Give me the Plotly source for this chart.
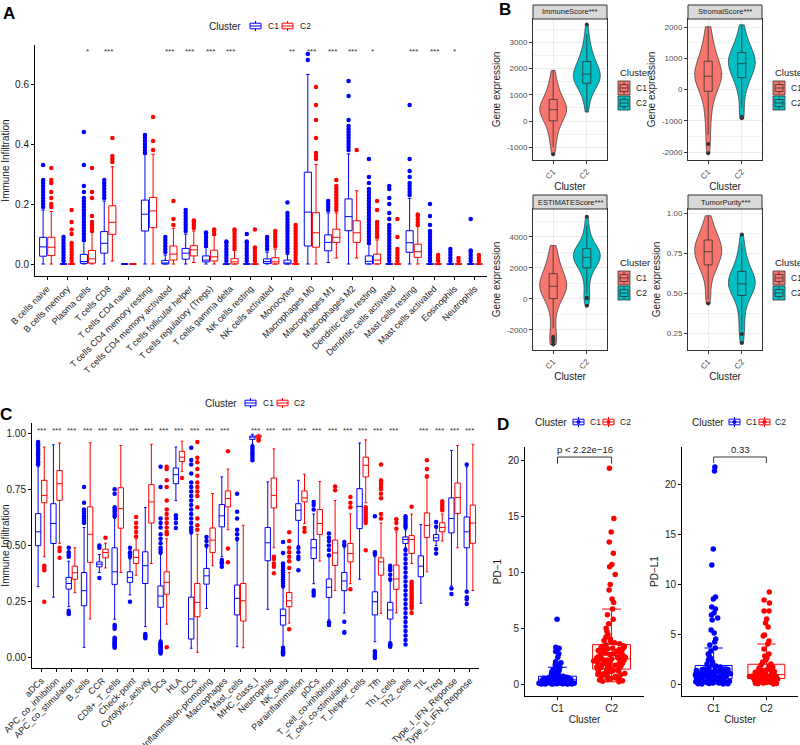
import plotly.graph_objects as go

FONT = "Liberation Sans, Arial, sans-serif"
BLUE = "#0000FF"
RED = "#FF0000"
SALMON = "#F8766D"
TEAL = "#00BFC4"

# ---------------- Panel A: CIBERSORT immune cells ----------------
cats_a = ["B cells naive", "B cells memory", "Plasma cells", "T cells CD8", "T cells CD4 naive",
          "T cells CD4 memory resting", "T cells CD4 memory activated", "T cells follicular helper",
          "T cells regulatory (Tregs)", "T cells gamma delta", "NK cells resting", "NK cells activated",
          "Monocytes", "Macrophages M0", "Macrophages M1", "Macrophages M2", "Dendritic cells resting",
          "Dendritic cells activated", "Mast cells resting", "Mast cells activated", "Eosinophils",
          "Neutrophils"]
sig_a = ["", "", "*", "***", "", "", "***", "***", "***", "***", "", "", "**", "***", "***", "***",
         "*", "", "***", "***", "*", ""]

a_c1_lo = [0, 0, 0, 0, 0, 0, 0, 0, 0, 0, 0, 0, 0, 0, 0.005, 0, 0, 0, 0, 0, 0, 0]
a_c1_q1 = [0.026, 0, 0.002, 0.036, 0, 0.11, 0, 0.016, 0.007, 0, 0, 0.002, 0, 0.06, 0.044, 0.111, 0, 0, 0.039, 0, 0, 0]
a_c1_med = [0.057, 0, 0.008, 0.069, 0, 0.166, 0.003, 0.036, 0.013, 0, 0, 0.008, 0.002, 0.173, 0.072, 0.158, 0.009, 0, 0.071, 0, 0, 0]
a_c1_q3 = [0.089, 0, 0.032, 0.108, 0, 0.213, 0.012, 0.052, 0.027, 0, 0, 0.017, 0.013, 0.306, 0.097, 0.217, 0.027, 0, 0.111, 0, 0, 0]
a_c1_hi = [0.18, 0, 0.075, 0.21, 0, 0.366, 0.03, 0.1, 0.055, 0, 0, 0.04, 0.032, 0.632, 0.17, 0.367, 0.065, 0, 0.219, 0, 0, 0]
a_c1_out = [
    [0.19, 0.2, 0.21, 0.22, 0.23, 0.24, 0.25, 0.26, 0.27, 0.28, 0.33],
    [0.01, 0.02, 0.03, 0.04, 0.05, 0.06, 0.07, 0.08, 0.09],
    [0.08, 0.09, 0.1, 0.11, 0.12, 0.13, 0.14, 0.15, 0.16, 0.17, 0.18, 0.19, 0.2, 0.21, 0.22, 0.24, 0.26, 0.33, 0.44],
    [0.22, 0.23, 0.24, 0.25, 0.26, 0.27, 0.28],
    [],
    [0.37, 0.38, 0.39, 0.4, 0.41, 0.42, 0.43],
    [0.04, 0.05, 0.06, 0.07, 0.08, 0.09],
    [0.11, 0.12, 0.13, 0.14, 0.15, 0.16, 0.17, 0.18],
    [0.06, 0.07, 0.08, 0.09, 0.1, 0.105],
    [0.01, 0.02, 0.03, 0.04, 0.05, 0.06, 0.07, 0.075],
    [0.01, 0.02, 0.03, 0.04, 0.05, 0.06, 0.07, 0.075, 0.1],
    [0.05, 0.06, 0.07, 0.08, 0.09],
    [0.04, 0.05, 0.06, 0.07, 0.08, 0.09, 0.1, 0.11, 0.12, 0.13, 0.14, 0.15, 0.16, 0.17, 0.205],
    [0.68, 0.7],
    [0.18, 0.19, 0.2, 0.21],
    [0.38, 0.39, 0.4, 0.41, 0.42, 0.43, 0.44, 0.45, 0.46, 0.48, 0.56, 0.61],
    [0.07, 0.08, 0.09, 0.1, 0.11, 0.12, 0.13, 0.14, 0.15, 0.16, 0.17, 0.18, 0.19, 0.2, 0.21, 0.22, 0.23, 0.24, 0.25, 0.27, 0.29, 0.35],
    [0.01, 0.02, 0.03, 0.04, 0.05, 0.06, 0.07, 0.08, 0.09, 0.1, 0.11, 0.12, 0.13, 0.15, 0.17, 0.2, 0.22, 0.25, 0.26],
    [0.23, 0.24, 0.25, 0.26, 0.27, 0.29, 0.31, 0.35, 0.53],
    [0.01, 0.02, 0.03, 0.04, 0.05, 0.06, 0.07, 0.08, 0.09, 0.1, 0.11, 0.13, 0.16, 0.2],
    [0.01, 0.02, 0.03, 0.04, 0.05],
    [0.01, 0.02, 0.03, 0.04, 0.045, 0.15],
]

a_c2_lo = [0, 0, 0, 0.01, 0, 0, 0, 0.005, 0, 0, 0, 0, 0, 0, 0.02, 0.02, 0, 0, 0, 0, 0, 0]
a_c2_q1 = [0.028, 0, 0.003, 0.099, 0, 0.121, 0.013, 0.027, 0.01, 0, 0, 0, 0, 0.056, 0.072, 0.072, 0, 0, 0.022, 0, 0, 0]
a_c2_med = [0.056, 0, 0.017, 0.139, 0, 0.177, 0.033, 0.047, 0.024, 0.007, 0, 0.007, 0, 0.104, 0.089, 0.104, 0.013, 0, 0.041, 0, 0, 0]
a_c2_q3 = [0.089, 0, 0.045, 0.194, 0, 0.222, 0.06, 0.061, 0.046, 0.018, 0, 0.021, 0, 0.171, 0.116, 0.144, 0.033, 0, 0.066, 0, 0, 0]
a_c2_hi = [0.175, 0, 0.108, 0.324, 0, 0.366, 0.119, 0.11, 0.095, 0.045, 0, 0.05, 0, 0.332, 0.17, 0.244, 0.08, 0, 0.125, 0, 0, 0]
a_c2_out = [
    [0.19, 0.2, 0.22, 0.24, 0.27, 0.28, 0.32],
    [0.01, 0.02, 0.03, 0.04, 0.05, 0.06, 0.07, 0.1, 0.115, 0.14, 0.18],
    [0.11, 0.12, 0.13, 0.14, 0.16, 0.22, 0.24, 0.32],
    [0.34, 0.35, 0.36, 0.42],
    [],
    [0.38, 0.41, 0.49],
    [0.13, 0.15, 0.21],
    [0.12, 0.13, 0.14, 0.145],
    [0.1, 0.11, 0.115],
    [0.05, 0.06, 0.07, 0.08, 0.09, 0.1, 0.11, 0.115],
    [0.01, 0.02, 0.03, 0.04, 0.05, 0.055, 0.115],
    [0.06, 0.07, 0.08, 0.09, 0.1, 0.11],
    [0.01, 0.02, 0.03, 0.04, 0.05, 0.06, 0.07, 0.08, 0.09, 0.1, 0.11, 0.12, 0.13],
    [0.35, 0.36, 0.37, 0.42, 0.48, 0.53, 0.59],
    [0.18, 0.19, 0.2, 0.21, 0.22, 0.23, 0.24, 0.25, 0.26, 0.28],
    [0.38],
    [0.09, 0.1, 0.11, 0.12, 0.13, 0.14, 0.18, 0.21],
    [0.01, 0.02, 0.03, 0.04, 0.05, 0.09, 0.15],
    [0.13, 0.14, 0.15, 0.16, 0.165],
    [0.01, 0.02, 0.03],
    [0.01, 0.02],
    [0.01, 0.02, 0.03],
]

# ---------------- Panel B: ESTIMATE scores (violins) ----------------
immune_c1 = [-1270, -1000, -820, -650, -500, -380, -260, -160, -80, -10,
             20, 90, 150, 210, 260, 300, 340, 370, 400, 420,
             440, 470, 500, 530, 570, 610, 650, 700, 740, 790,
             850, 920, 1000, 1080, 1170, 1270, 1380, 1500, 1680, 1930]
immune_c2 = [340, 600, 820, 980, 1100, 1200, 1270, 1330, 1380, 1420,
             1460, 1500, 1540, 1580, 1620, 1660, 1690, 1720, 1750, 1770,
             1800, 1840, 1880, 1930, 1980, 2030, 2080, 2130, 2180, 2230,
             2300, 2380, 2460, 2550, 2650, 2760, 2900, 3080, 3300, 3680]
stromal_c1 = [-2040, -1740, -1450, -1150, -900, -700, -520, -360, -220, -90,
              -20, 50, 120, 180, 240, 290, 330, 360, 390, 410,
              440, 480, 520, 570, 620, 670, 720, 770, 820, 870,
              940, 1010, 1090, 1180, 1280, 1390, 1520, 1680, 1850, 2010]
stromal_c2 = [-920, -870, -600, -330, -120, 40, 150, 230, 300, 350,
              410, 470, 530, 580, 630, 680, 720, 760, 790, 810,
              840, 870, 900, 930, 960, 1000, 1040, 1080, 1120, 1160,
              1210, 1260, 1320, 1380, 1450, 1530, 1620, 1730, 1880, 2070]
estimate_c1 = [-2950, -2750, -2600, -2450, -1900, -1300, -850, -500, -250, -30,
               60, 160, 260, 360, 450, 540, 620, 690, 740, 790,
               840, 900, 970, 1050, 1140, 1230, 1320, 1410, 1500, 1580,
               1680, 1800, 1940, 2100, 2280, 2480, 2700, 2940, 3180, 3450]
estimate_c2 = [-450, 40, 80, 350, 800, 1150, 1450, 1650, 1820, 1960,
               2050, 2140, 2230, 2310, 2390, 2460, 2520, 2570, 2610, 2650,
               2700, 2760, 2820, 2880, 2940, 3000, 3060, 3110, 3160, 3210,
               3280, 3360, 3450, 3560, 3700, 3880, 4100, 4400, 4750, 5300]
purity_c1 = [0.435, 0.46, 0.5, 0.55, 0.59, 0.62, 0.64, 0.65, 0.66, 0.672,
             0.68, 0.69, 0.70, 0.71, 0.72, 0.73, 0.735, 0.74, 0.75, 0.756,
             0.76, 0.77, 0.775, 0.78, 0.79, 0.795, 0.80, 0.81, 0.82, 0.827,
             0.835, 0.845, 0.855, 0.865, 0.88, 0.895, 0.91, 0.93, 0.955, 0.983]
purity_c2 = [0.187, 0.244, 0.27, 0.31, 0.35, 0.39, 0.42, 0.44, 0.46, 0.479,
             0.49, 0.50, 0.51, 0.52, 0.525, 0.53, 0.54, 0.545, 0.55, 0.556,
             0.56, 0.57, 0.575, 0.58, 0.59, 0.60, 0.605, 0.615, 0.62, 0.631,
             0.64, 0.65, 0.665, 0.68, 0.70, 0.72, 0.745, 0.775, 0.81, 0.865]
b_titles = ["ImmuneScore***", "StromalScore***", "ESTIMATEScore***", "TumorPurity***"]

# ---------------- Panel C: ssGSEA immune functions ----------------
cats_c = ["aDCs", "APC_co_inhibition", "APC_co_stimulation", "B_cells", "CCR", "CD8+_T_cells",
          "Check-point", "Cytolytic_activity", "DCs", "HLA", "iDCs", "Inflammation-promoting",
          "Macrophages", "Mast_cells", "MHC_class_I", "Neutrophils", "NK_cells", "Parainflammation",
          "pDCs", "T_cell_co-inhibition", "T_cell_co-stimulation", "T_helper_cells", "Tfh",
          "Th1_cells", "Th2_cells", "TIL", "Treg", "Type_I_IFN_Reponse", "Type_II_IFN_Reponse"]
sig_c = ["***"] * 13 + [""] + ["***"] * 10 + [""] + ["***"] * 4

c_c1_lo = [0.317, 0.27, 0.228, 0.047, 0.38, 0.172, 0.28, 0.139, 0.08, 0.7, 0.043, 0.22, 0.45, 0.05, 0.95,
           0.216, 0.05, 0.5, 0.33, 0.17, 0.2, 0.35, 0.072, 0.07, 0.49, 0.243, 0.5, 0.32, 0.3]
c_c1_q1 = [0.499, 0.509, 0.306, 0.232, 0.405, 0.327, 0.336, 0.331, 0.225, 0.775, 0.084, 0.328, 0.583, 0.191, 0.972,
           0.432, 0.146, 0.612, 0.442, 0.269, 0.299, 0.575, 0.191, 0.173, 0.509, 0.361, 0.521, 0.556, 0.49]
c_c1_med = [0.561, 0.598, 0.331, 0.299, 0.417, 0.383, 0.358, 0.41, 0.275, 0.815, 0.173, 0.365, 0.632, 0.265, 0.982,
            0.512, 0.188, 0.657, 0.49, 0.314, 0.342, 0.674, 0.25, 0.213, 0.527, 0.408, 0.534, 0.62, 0.561]
c_c1_q3 = [0.642, 0.686, 0.358, 0.38, 0.427, 0.49, 0.383, 0.472, 0.32, 0.845, 0.27, 0.398, 0.682, 0.324, 0.987,
           0.58, 0.217, 0.686, 0.527, 0.351, 0.38, 0.753, 0.294, 0.247, 0.538, 0.454, 0.549, 0.712, 0.627]
c_c1_hi = [0.85, 0.948, 0.43, 0.58, 0.46, 0.62, 0.44, 0.669, 0.46, 0.938, 0.55, 0.49, 0.805, 0.52, 0.995,
           0.783, 0.31, 0.79, 0.64, 0.45, 0.49, 0.956, 0.45, 0.34, 0.57, 0.593, 0.58, 0.923, 0.85]
c_c1_out = [
    [0.86, 0.87, 0.88, 0.89, 0.9, 0.91, 0.92, 0.93, 0.94, 0.95, 0.96],
    [],
    [0.45, 0.46, 0.47, 0.49, 0.21, 0.2, 0.195],
    [0.6, 0.61, 0.62, 0.63, 0.64, 0.65, 0.66, 0.69, 0.76],
    [0.49, 0.5, 0.355],
    [0.63, 0.64, 0.65, 0.66, 0.67, 0.73, 0.75, 0.146, 0.14, 0.13, 0.09, 0.085, 0.08, 0.075, 0.07, 0.065, 0.06, 0.055, 0.05, 0.045],
    [0.45, 0.46, 0.47, 0.49, 0.25],
    [0.106, 0.1, 0.095, 0.087],
    [0.47, 0.48, 0.49, 0.51, 0.53, 0.55, 0.58, 0.6, 0.62, 0.76, 0.85, 0.072, 0.065, 0.06, 0.055, 0.05, 0.045, 0.04, 0.035, 0.03, 0.025, 0.02],
    [0.635, 0.62, 0.6, 0.578],
    [0.56, 0.57, 0.58, 0.6, 0.62, 0.64, 0.66, 0.68, 0.7, 0.72, 0.74, 0.76, 0.78, 0.82, 0.86, 0.88, 0.935],
    [0.5, 0.52, 0.538],
    [0.435, 0.425, 0.42, 0.405],
    [0.53, 0.55, 0.57, 0.62, 0.65, 0.73],
    [0.94, 0.93, 0.92, 0.91, 0.9, 0.89, 0.879],
    [],
    [0.32, 0.33, 0.34, 0.35, 0.36, 0.37, 0.38, 0.39, 0.4, 0.41, 0.42, 0.467, 0.516, 0.045, 0.04, 0.035, 0.03, 0.025, 0.02, 0.015],
    [0.49, 0.47, 0.45, 0.44, 0.39],
    [0.694, 0.68, 0.66, 0.3, 0.29, 0.277],
    [0.457, 0.48, 0.5, 0.52, 0.535, 0.553, 0.158, 0.146],
    [0.501, 0.516, 0.161, 0.115, 0.112],
    [],
    [0.46, 0.47, 0.63, 0.03, 0.02, 0.01, 0.005, 0.0],
    [0.35, 0.37, 0.39, 0.4, 0.41, 0.065, 0.06, 0.055, 0.05],
    [0.58, 0.59, 0.6, 0.61, 0.62, 0.63, 0.48, 0.46, 0.44, 0.42, 0.4, 0.38, 0.36, 0.34, 0.32, 0.3, 0.28, 0.26,
     0.24, 0.22, 0.2, 0.18, 0.16, 0.14, 0.12, 0.1, 0.08, 0.06],
    [],
    [0.583, 0.605, 0.484, 0.464],
    [0.309, 0.284],
    [0.86, 0.294, 0.27, 0.26, 0.24],
]

c_c2_lo = [0.45, 0.51, 0.29, 0.173, 0.4, 0.38, 0.368, 0.42, 0.15, 0.83, 0.025, 0.41, 0.57, 0.045, 0.978,
           0.49, 0.155, 0.598, 0.43, 0.3, 0.33, 0.69, 0.198, 0.2, 0.42, 0.383, 0.52, 0.49, 0.3]
c_c2_q1 = [0.69, 0.701, 0.35, 0.425, 0.445, 0.577, 0.42, 0.6, 0.283, 0.874, 0.183, 0.469, 0.672, 0.164, 0.982,
           0.667, 0.228, 0.694, 0.549, 0.411, 0.427, 0.805, 0.368, 0.305, 0.464, 0.536, 0.561, 0.642, 0.51]
c_c2_med = [0.723, 0.775, 0.379, 0.55, 0.469, 0.664, 0.447, 0.694, 0.336, 0.893, 0.247, 0.524, 0.709, 0.254, 0.986,
            0.723, 0.254, 0.712, 0.598, 0.467, 0.464, 0.857, 0.427, 0.351, 0.527, 0.589, 0.58, 0.713, 0.6]
c_c2_q3 = [0.79, 0.834, 0.408, 0.672, 0.484, 0.757, 0.48, 0.771, 0.383, 0.919, 0.331, 0.578, 0.743, 0.331, 0.99,
           0.8, 0.291, 0.743, 0.66, 0.524, 0.509, 0.893, 0.445, 0.413, 0.544, 0.645, 0.601, 0.778, 0.68]
c_c2_hi = [0.938, 0.956, 0.49, 0.957, 0.51, 0.945, 0.53, 0.95, 0.53, 0.964, 0.55, 0.731, 0.84, 0.59, 0.995,
           0.93, 0.38, 0.817, 0.785, 0.7, 0.64, 0.97, 0.6, 0.56, 0.64, 0.8, 0.64, 0.945, 0.95]
c_c2_out = [
    [0.41, 0.4, 0.39, 0.25],
    [0.49, 0.475, 0.445],
    [], [], [0.535], [],
    [0.54, 0.56, 0.58, 0.6, 0.627],
    [],
    [0.55, 0.56, 0.58, 0.6, 0.62, 0.64, 0.66, 0.7, 0.76, 0.79, 0.84, 0.85, 0.047],
    [0.8],
    [0.57, 0.59, 0.62, 0.67, 0.72, 0.74, 0.76, 0.78, 0.81, 0.84, 0.87, 0.89, 0.96],
    [],
    [0.919, 0.487, 0.426],
    [],
    [0.975, 0.967],
    [0.45, 0.44, 0.42, 0.405, 0.376],
    [0.4, 0.43, 0.45, 0.47, 0.49, 0.52, 0.559, 0.127],
    [0.578, 0.561],
    [],
    [0.746, 0.763],
    [0.67, 0.69, 0.716, 0.305],
    [0.67, 0.66, 0.65, 0.64, 0.63, 0.62, 0.61, 0.6, 0.479],
    [0.62, 0.64, 0.71, 0.73, 0.75, 0.76, 0.77, 0.78, 0.79, 0.86],
    [0.575, 0.6, 0.617],
    [0.672, 0.339, 0.33, 0.32, 0.31, 0.3, 0.29, 0.28, 0.27, 0.26, 0.25, 0.24, 0.23, 0.22, 0.2],
    [0.808, 0.84, 0.879],
    [0.657, 0.667, 0.677, 0.687, 0.697],
    [], [],
]

# ---------------- Panel D: PD-1 / PD-L1 expression ----------------
pd1_c1 = [0, 0, 0, 0.01, 0.01, 0.02, 0.02, 0.03, 0.03, 0.04, 0.04, 0.05, 0.05, 0.06, 0.06, 0.07, 0.07,
          0.08, 0.08, 0.09, 0.09, 0.1, 0.1, 0.11, 0.12,
          0.13, 0.14, 0.15, 0.16, 0.17, 0.18, 0.19, 0.2, 0.21, 0.22, 0.23, 0.24, 0.25, 0.26, 0.27, 0.28,
          0.29, 0.3, 0.31, 0.32, 0.33, 0.34, 0.35, 0.35, 0.36,
          0.37, 0.38, 0.39, 0.4, 0.41, 0.42, 0.43, 0.44, 0.45, 0.46, 0.47, 0.48, 0.49, 0.5, 0.51, 0.52,
          0.53, 0.54, 0.55, 0.56, 0.57, 0.58, 0.59, 0.6, 0.6,
          0.65, 0.7, 0.75, 0.8, 0.85, 0.9, 0.95, 1.0, 1.05, 1.1, 1.15, 1.2, 1.3, 1.4, 1.5, 1.6, 1.7,
          1.8, 1.9, 2.0, 2.4, 2.7, 2.9, 3.0, 3.2, 3.3, 5.8]
pd1_c2 = [0.2, 0.25, 0.3, 0.35, 0.4, 0.45, 0.5, 0.55, 0.6, 0.65, 0.7, 0.75, 0.8, 0.85, 0.9, 0.95, 1.0,
          1.05, 1.1, 1.12, 1.15, 1.2, 1.24, 1.28, 1.31,
          1.35, 1.4, 1.44, 1.48, 1.52, 1.56, 1.6, 1.64, 1.68, 1.72, 1.76, 1.8, 1.84, 1.88, 1.92, 1.96,
          2.0, 2.03, 2.06, 2.09, 2.12, 2.14, 2.16, 2.18, 2.2,
          2.25, 2.3, 2.35, 2.4, 2.45, 2.5, 2.55, 2.6, 2.65, 2.7, 2.75, 2.8, 2.85, 2.9, 2.95, 3.0, 3.05,
          3.1, 3.15, 3.2, 3.25, 3.3, 3.35, 3.38, 3.42,
          3.5, 3.6, 3.7, 3.8, 3.9, 4.0, 4.2, 4.4, 4.7, 5.0, 5.4, 5.8, 6.2, 6.7, 7.3, 7.6, 8.4, 8.9, 9.8,
          10.5, 10.7, 11.7, 12.7, 13.6, 14.8, 19.3]
pdl1_c1 = [0, 0.01, 0.02, 0.03, 0.05, 0.07, 0.09, 0.11, 0.13, 0.15, 0.17, 0.19, 0.21, 0.23, 0.25, 0.28,
           0.3, 0.32, 0.35, 0.37, 0.4, 0.42, 0.45, 0.47, 0.5,
           0.52, 0.54, 0.56, 0.58, 0.6, 0.62, 0.64, 0.66, 0.68, 0.7, 0.72, 0.74, 0.76, 0.78, 0.8, 0.82,
           0.84, 0.86, 0.87, 0.88, 0.89, 0.9, 0.92, 0.93, 0.95,
           0.97, 0.99, 1.01, 1.03, 1.05, 1.08, 1.1, 1.13, 1.16, 1.19, 1.22, 1.25, 1.28, 1.3, 1.32, 1.34,
           1.36, 1.38, 1.4, 1.42, 1.44, 1.46, 1.47, 1.49, 1.5,
           1.6, 1.7, 1.8, 1.9, 2.0, 2.2, 2.4, 2.6, 2.8, 3.0, 3.3, 3.6, 3.9, 4.2, 4.5, 5.1, 5.4, 6.4, 6.6,
           6.9, 7.1, 7.5, 7.7, 8.5, 8.7, 11.9, 13.5, 21.3, 21.7]
pdl1_c2 = [0, 0.02, 0.05, 0.08, 0.1, 0.13, 0.16, 0.2, 0.23, 0.26, 0.3, 0.33, 0.36, 0.4, 0.43, 0.47, 0.5,
           0.52, 0.55, 0.57, 0.6, 0.62, 0.64, 0.66, 0.68, 0.7, 0.72, 0.73, 0.74, 0.75, 0.76, 0.77, 0.78, 0.8,
           0.83, 0.86, 0.9, 0.94, 0.98, 1.02, 1.06, 1.1, 1.14, 1.18, 1.22, 1.26, 1.3, 1.33, 1.36, 1.38, 1.4,
           1.5, 1.6, 1.7, 1.8, 1.9, 2.0, 2.2, 2.4, 2.6, 2.8, 3.0, 3.5, 4.0, 4.3, 4.8, 4.9, 5.7, 6.1, 6.5,
           7.3, 7.3, 8.1, 8.4, 9.2]


def xd(a, b):
    return [a / 800, b / 800]


def yd(top, bottom):
    return [1 - bottom / 745, 1 - top / 745]


def px(x):
    return x / 800


def py(y):
    return 1 - y / 745


fig = go.Figure()

# --- Panel A boxes (precomputed stats, outliers as sample points) ---
for name, col, lo, q1, med, q3, hi, out in [
    ("C1", BLUE, a_c1_lo, a_c1_q1, a_c1_med, a_c1_q3, a_c1_hi, a_c1_out),
    ("C2", RED, a_c2_lo, a_c2_q1, a_c2_med, a_c2_q3, a_c2_hi, a_c2_out),
]:
    fig.add_trace(go.Box(
        x=cats_a, q1=q1, median=med, q3=q3, lowerfence=lo, upperfence=hi, y=out,
        name=name, boxpoints="outliers", pointpos=0, jitter=0,
        line=dict(color=col, width=1), fillcolor="rgba(255,255,255,0)",
        marker=dict(color=col, size=4.5, line=dict(width=0)),
        xaxis="x", yaxis="y", offsetgroup=name, showlegend=False, hoverinfo="skip",
    ))

# --- Panel C boxes ---
for name, col, lo, q1, med, q3, hi, out in [
    ("C1", BLUE, c_c1_lo, c_c1_q1, c_c1_med, c_c1_q3, c_c1_hi, c_c1_out),
    ("C2", RED, c_c2_lo, c_c2_q1, c_c2_med, c_c2_q3, c_c2_hi, c_c2_out),
]:
    fig.add_trace(go.Box(
        x=cats_c, q1=q1, median=med, q3=q3, lowerfence=lo, upperfence=hi, y=out,
        name=name, boxpoints="outliers", pointpos=0, jitter=0,
        line=dict(color=col, width=1), fillcolor="rgba(255,255,255,0)",
        marker=dict(color=col, size=4.5, line=dict(width=0)),
        xaxis="x6", yaxis="y6", offsetgroup=name, showlegend=False, hoverinfo="skip",
    ))

# --- Panel B violins ---
b_data = [(immune_c1, immune_c2), (stromal_c1, stromal_c2),
          (estimate_c1, estimate_c2), (purity_c1, purity_c2)]
for k, (v1, v2) in enumerate(b_data):
    ax = k + 2
    for name, col, vals in [("C1", SALMON, v1), ("C2", TEAL, v2)]:
        fig.add_trace(go.Violin(
            x=[name] * len(vals), y=vals, name=name, spanmode="hard", width=0.8,
            fillcolor=col, line=dict(color="#333333", width=0.7), opacity=1,
            box=dict(visible=True, width=0.3, fillcolor=col, line=dict(color="#333333", width=0.8)),
            meanline=dict(visible=False), points="outliers", pointpos=0, jitter=0,
            marker=dict(color="#333333", size=4),
            xaxis=f"x{ax}", yaxis=f"y{ax}", showlegend=False, hoverinfo="skip",
        ))

# --- Panel D jitter boxes ---
for k, (v1, v2) in enumerate([(pd1_c1, pd1_c2), (pdl1_c1, pdl1_c2)]):
    ax = k + 7
    for name, col, vals in [("C1", BLUE, v1), ("C2", RED, v2)]:
        fig.add_trace(go.Box(
            x=[name] * len(vals), y=vals, name=name, boxpoints="all", pointpos=0, jitter=1,
            line=dict(color=col, width=1), fillcolor="rgba(255,255,255,0)",
            marker=dict(color=col, size=5.5, line=dict(width=0)),
            offsetgroup="d", xaxis=f"x{ax}", yaxis=f"y{ax}", showlegend=False,
            hoverinfo="skip",
        ))

classic = dict(showline=True, linecolor="black", linewidth=1, ticks="outside", ticklen=3,
               tickcolor="black", showgrid=False, zeroline=False, automargin=False,
               tickfont=dict(size=10, color="#1a1a1a"))
bw = dict(showline=True, linecolor="#333333", linewidth=1, mirror=True, ticks="outside", ticklen=3,
          tickcolor="#333333", showgrid=True, gridcolor="#EBEBEB", gridwidth=0.8, zeroline=False,
          automargin=False, tickfont=dict(size=8, color="#4D4D4D"))

layout = dict(
    template="none", showlegend=False,
    width=800, height=745, margin=dict(l=0, r=0, t=0, b=0, autoexpand=False),
    paper_bgcolor="white", plot_bgcolor="white",
    font=dict(family=FONT, color="#1a1a1a"),
    boxmode="group", boxgap=0.2, boxgroupgap=0.125,
    xaxis=dict(classic, domain=xd(35, 487), anchor="y", type="category", range=[-0.6, 21.6],
               tickangle=-45, tickfont=dict(size=9, color="#1a1a1a")),
    yaxis=dict(classic, domain=yd(45, 276), anchor="x", range=[-0.04, 0.73],
               tickvals=[0, 0.2, 0.4, 0.6], ticktext=["0.0", "0.2", "0.4", "0.6"],
               title=dict(text="Immune Infiltration", font=dict(size=10), standoff=6)),
    xaxis6=dict(classic, domain=xd(32, 479), anchor="y6", type="category", range=[-0.6, 28.6],
                tickangle=-45, tickfont=dict(size=9, color="#1a1a1a")),
    yaxis6=dict(classic, domain=yd(423, 668), anchor="x6", range=[-0.045, 1.045],
                tickvals=[0, 0.25, 0.5, 0.75, 1.0], ticktext=["0.00", "0.25", "0.50", "0.75", "1.00"],
                title=dict(text="Immune Infiltration", font=dict(size=10), standoff=4)),
)

b_dom = [(xd(533, 607), yd(19, 160)), (xd(688, 762), yd(19, 160)),
         (xd(533, 607), yd(209, 350)), (xd(688, 762), yd(209, 350))]
b_ranges = [[-1486, 3886], [-2256, 2256], [-3300, 5800], [0.144, 1.025]]
b_ticks = [[-1000, 0, 1000, 2000, 3000], [-2000, -1000, 0, 1000, 2000],
           [-2000, 0, 2000, 4000], [0.25, 0.5, 0.75, 1.0]]
b_minor = [500, 500, 1000, 0.125]
for k in range(4):
    ax = k + 2
    xdom, ydom = b_dom[k]
    ticktext = [f"{t:.2f}" for t in b_ticks[k]] if k == 3 else [str(t) for t in b_ticks[k]]
    layout[f"xaxis{ax}"] = dict(bw, domain=xdom, anchor=f"y{ax}", type="category", range=[-0.6, 1.6],
                                tickangle=-45,
                                title=dict(text="Cluster", font=dict(size=10), standoff=2))
    layout[f"yaxis{ax}"] = dict(bw, domain=ydom, anchor=f"x{ax}", range=b_ranges[k],
                                tickvals=b_ticks[k], ticktext=ticktext,
                                minor=dict(showgrid=True, gridcolor="#F2F2F2", gridwidth=0.5,
                                           dtick=b_minor[k], tick0=0),
                                title=dict(text="Gene expression", font=dict(size=10), standoff=4))

layout["xaxis7"] = dict(classic, domain=xd(525, 644), anchor="y7", type="category", range=[-0.6, 1.6],
                        title=dict(text="Cluster", font=dict(size=10), standoff=2))
layout["yaxis7"] = dict(classic, domain=yd(447, 696), anchor="x7", range=[-1.07, 21.2],
                        tickvals=[0, 5, 10, 15, 20], title=dict(text="PD\u22121", font=dict(size=10), standoff=4))
layout["xaxis8"] = dict(classic, domain=xd(682, 798), anchor="y8", type="category", range=[-0.6, 1.6],
                        title=dict(text="Cluster", font=dict(size=10), standoff=2))
layout["yaxis8"] = dict(classic, domain=yd(447, 696), anchor="x8", range=[-1.2, 23.7],
                        tickvals=[0, 5, 10, 15, 20], title=dict(text="PD\u2212L1", font=dict(size=10), standoff=4))

fig.update_layout(**layout)

annotations = []
shapes = []


def text_at(x, y, s, size=8.5, anchor="left", color="#1a1a1a"):
    annotations.append(dict(x=px(x), y=py(y), xref="paper", yref="paper", text=s, showarrow=False,
                            xanchor=anchor, yanchor="middle", font=dict(size=size, color=color)))


def pline(x0, y0, x1, y1, color, w=1.0):
    shapes.append(dict(type="line", xref="paper", yref="paper", x0=px(x0), y0=py(y0), x1=px(x1),
                       y1=py(y1), line=dict(color=color, width=w)))


def prect(x0, y0, x1, y1, line, fill, w=1.0):
    shapes.append(dict(type="rect", xref="paper", yref="paper", x0=px(x0), y0=py(y0), x1=px(x1),
                       y1=py(y1), line=dict(color=line, width=w), fillcolor=fill))


def box_key(x0, yc, color, dot=False):
    # boxplot legend key drawn like ggplot's draw_key_boxplot
    xc = x0 + 5.5
    pline(xc, yc - 5, xc, yc + 5, color)
    prect(x0, yc - 2.8, x0 + 11, yc + 2.8, color, "white")
    pline(x0, yc, x0 + 11, yc, color)
    if dot:
        shapes.append(dict(type="circle", xref="paper", yref="paper", x0=px(xc - 2), x1=px(xc + 2),
                           y0=py(yc + 2), y1=py(yc - 2), fillcolor=color, line=dict(width=0)))


def violin_key(x0, y0, color):
    xc = x0 + 6
    prect(x0, y0, x0 + 12, y0 + 14, "#333333", color, 0.8)
    pline(xc, y0 + 1, xc, y0 + 13, "#333333", 0.8)
    prect(x0 + 2, y0 + 3.5, x0 + 10, y0 + 10.5, "#333333", color, 0.8)
    pline(x0 + 2, y0 + 7, x0 + 10, y0 + 7, "#333333", 0.8)


# horizontal legends (panels A, C, D)
for title_x, row_y, keys, dot in [
    (243, 26, [(250, 266), (282, 298)], False),
    (239, 403, [(245, 261), (277, 292)], False),
    (569, 422, [(573, 588), (603, 618)], True),
    (726, 422, [(729, 744), (759, 773)], True),
]:
    text_at(title_x, row_y, "Cluster", size=10, anchor="right")
    for (kx, tx), lab, col in zip(keys, ["C1", "C2"], [BLUE, RED]):
        box_key(kx, row_y, col, dot)
        text_at(tx, row_y, lab, size=8.5)

# vertical legends (panel B)
for lx, ty in [(618, 72), (773, 72), (618, 262), (773, 262)]:
    text_at(lx, ty, "Cluster", size=9.5)
    for j, (lab, col) in enumerate([("C1", SALMON), ("C2", TEAL)]):
        violin_key(lx, ty + 9 + 15 * j, col)
        text_at(lx + 16, ty + 16 + 15 * j, lab, size=8.5)

# significance stars
for cat, s in zip(cats_a, sig_a):
    if s:
        annotations.append(dict(x=cat, y=0.71, xref="x", yref="y", text=s, showarrow=False,
                                font=dict(size=8, color="#333333")))
for cat, s in zip(cats_c, sig_c):
    if s:
        annotations.append(dict(x=cat, y=1.013, xref="x6", yref="y6", text=s, showarrow=False,
                                font=dict(size=8, color="#333333")))

# strips in panel B
for k in range(4):
    ax = k + 2
    shapes.append(dict(type="rect", xref=f"x{ax} domain", yref=f"y{ax} domain",
                       x0=0, x1=1, y0=1, y1=1 + 14 / 141, fillcolor="#D9D9D9",
                       line=dict(color="#333333", width=1)))
    annotations.append(dict(x=0.5, y=1 + 7 / 141, xref=f"x{ax} domain", yref=f"y{ax} domain",
                            text=b_titles[k], showarrow=False, xanchor="center", yanchor="middle",
                            font=dict(size=7.5, color="#1a1a1a")))

# comparison brackets in panel D
for ax, ylo, yhi, label in [(7, 19.7, 20.3, "p < 2.22e\u221216"), (8, 22.1, 22.7, "0.33")]:
    shapes.append(dict(type="line", xref=f"x{ax}", yref=f"y{ax}", x0="C1", x1="C1", y0=ylo, y1=yhi,
                       line=dict(color="black", width=0.8)))
    shapes.append(dict(type="line", xref=f"x{ax}", yref=f"y{ax}", x0="C1", x1="C2", y0=yhi, y1=yhi,
                       line=dict(color="black", width=0.8)))
    shapes.append(dict(type="line", xref=f"x{ax}", yref=f"y{ax}", x0="C2", x1="C2", y0=ylo, y1=yhi,
                       line=dict(color="black", width=0.8)))
    annotations.append(dict(x=0.5, y=yhi, xref=f"x{ax} domain", yref=f"y{ax}", text=label,
                            showarrow=False, xanchor="center", yanchor="bottom", font=dict(size=9.5)))

# panel letters
for letter, lx, ly in [("A", 9, 13), ("B", 505, 9), ("C", 6, 414), ("D", 503, 424)]:
    annotations.append(dict(x=px(lx), y=py(ly), xref="paper", yref="paper", text=f"<b>{letter}</b>",
                            showarrow=False, xanchor="center", yanchor="middle",
                            font=dict(size=17, color="black")))

fig.update_layout(annotations=annotations, shapes=shapes)

# the page body has a default 8px margin; remove it so the figure sits at the window origin
fig.write_html("out.html", config={"displayModeBar": False},
               post_script="document.body.style.margin='0px';")
